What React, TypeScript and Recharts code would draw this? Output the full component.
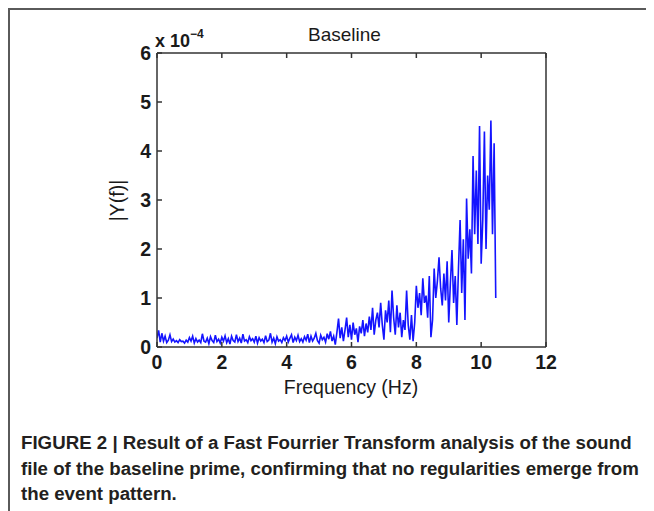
import { LineChart, Line, XAxis, YAxis } from "recharts"

// spectrum magnitude in units of 1e-4, sampled every 0.05 Hz starting at 0 Hz
const lowBand = [
  0.18, 0.34, 0.10, 0.28, 0.12, 0.22, 0.09, 0.14, 0.25, 0.11,
  0.16, 0.10, 0.13, 0.09, 0.15, 0.11, 0.12, 0.08, 0.14, 0.10,
  0.19, 0.12, 0.22, 0.08, 0.17, 0.10, 0.14, 0.09, 0.27, 0.12,
  0.10, 0.18, 0.07, 0.21, 0.13, 0.09, 0.24, 0.11, 0.16, 0.08,
  0.20, 0.12, 0.23, 0.09, 0.17, 0.06, 0.22, 0.13, 0.10, 0.25,
  0.11, 0.18, 0.08, 0.26, 0.12, 0.15, 0.09, 0.21, 0.13, 0.17,
  0.10, 0.22, 0.08, 0.19, 0.12, 0.16, 0.09, 0.23, 0.11, 0.14,
  0.28, 0.10, 0.18, 0.07, 0.21, 0.12, 0.15, 0.09, 0.19, 0.13,
  0.22, 0.10, 0.18, 0.25, 0.09, 0.20, 0.13, 0.24, 0.11, 0.17,
  0.10, 0.21, 0.14, 0.26, 0.09, 0.22, 0.12, 0.18, 0.28, 0.13,
  0.08, 0.24, 0.15, 0.20, 0.10, 0.27, 0.16, 0.32, 0.12, 0.22,
]
const midBand = [
  0.05, 0.30, 0.58, 0.18, 0.40, 0.12, 0.35, 0.60, 0.20, 0.45,
  0.15, 0.50, 0.25, 0.38, 0.10, 0.42, 0.28, 0.55, 0.22, 0.48,
  0.30, 0.62, 0.35, 0.80, 0.25, 0.55, 0.70, 0.40, 0.90, 0.45,
  0.15, 0.75, 0.50, 0.95, 0.30, 1.15, 0.60, 0.25, 0.85, 0.40,
  0.70, 0.20, 0.55, 0.35, 1.15, 0.45, 0.15, 0.65, 0.12, 0.50,
]
const highBand = [
  1.25, 0.80, 1.10, 0.65, 1.40, 0.90, 1.05, 0.60, 1.45, 0.20,
  0.55, 1.60, 1.00, 1.35, 1.83, 1.20, 0.85, 1.50, 0.95, 1.75,
  0.50, 1.30, 1.98, 0.90, 1.45, 0.45, 1.60, 2.59, 1.10, 2.20,
  0.55, 3.03, 1.80, 2.40, 1.50, 3.90, 2.30, 3.60, 2.10, 4.51,
  1.70, 2.60, 4.40, 2.00, 3.50, 2.80, 4.62, 2.30, 4.16, 1.00,
]
const step = 0.05

const xTicks = [0, 2, 4, 6, 8, 10, 12]
const yTicks = [0, 1, 2, 3, 4, 5, 6]

const caption = [
  "FIGURE 2 | Result of a Fast Fourrier Transform analysis of the sound",
  "file of the baseline prime, confirming that no regularities emerge from",
  "the event pattern.",
]

const data = [...lowBand, ...midBand, ...highBand].map((y, i) => ({
  f: +(i * step).toFixed(2),
  y,
}))

const font = "'Liberation Sans', Arial, Helvetica, sans-serif"
const axisColor = "#333"
const tickStyle = { fontFamily: font, fontSize: 19.5, fontWeight: 700, fill: "#1a1a1a" }
const blank = () => ""

export default function App() {
  return (
    <div style={{ position: "relative", width: 646, height: 503, fontFamily: font, background: "#fff" }}>
      <div style={{ position: "absolute", left: 0, top: 0, width: 646, height: 2, background: "#5a5a5a" }} />
      <div style={{ position: "absolute", left: 0, top: 0, width: 2, height: 503, background: "#5a5a5a" }} />

      <div style={{ position: "absolute", left: 0, top: 0 }}>
        <LineChart
          width={646}
          height={420}
          data={data}
          margin={{ top: 40, right: 98, left: 109, bottom: 51 }}
        >
          <XAxis
            xAxisId="bottom"
            dataKey="f"
            type="number"
            domain={[0, 12]}
            ticks={xTicks}
            height={30}
            stroke={axisColor}
            strokeWidth={1.5}
            tickSize={-5}
            tickMargin={13}
            tick={tickStyle}
            allowDataOverflow
          />
          <XAxis
            xAxisId="top"
            orientation="top"
            dataKey="f"
            type="number"
            domain={[0, 12]}
            ticks={xTicks}
            height={5}
            stroke={axisColor}
            strokeWidth={1.5}
            tickSize={-5}
            tickFormatter={blank}
          />
          <YAxis
            yAxisId="left"
            type="number"
            domain={[0, 6]}
            ticks={yTicks}
            width={40}
            stroke={axisColor}
            strokeWidth={1.5}
            tickSize={-5}
            tickMargin={11}
            tick={tickStyle}
          />
          <YAxis
            yAxisId="right"
            orientation="right"
            type="number"
            domain={[0, 6]}
            ticks={yTicks}
            width={10}
            stroke={axisColor}
            strokeWidth={1.5}
            tickSize={-5}
            tickFormatter={blank}
          />
          <Line
            xAxisId="bottom"
            yAxisId="left"
            type="linear"
            dataKey="y"
            stroke="#1414ff"
            strokeWidth={1.6}
            dot={false}
            isAnimationActive={false}
          />
        </LineChart>
      </div>

      <div style={{ position: "absolute", left: 300, top: 16, width: 72, textAlign: "center", fontSize: 19, color: "#1a1a1a", whiteSpace: "nowrap" }}>
        Baseline
      </div>
      <div style={{ position: "absolute", left: 147, top: 21, fontSize: 18, fontWeight: 700, color: "#1a1a1a", whiteSpace: "nowrap" }}>
        x 10<sup style={{ fontSize: 12, position: "relative", top: -2 }}>−4</sup>
      </div>
      <div style={{ position: "absolute", left: 229, top: 368, width: 228, textAlign: "center", fontSize: 19.5, color: "#1a1a1a", whiteSpace: "nowrap" }}>
        Frequency (Hz)
      </div>
      <div style={{ position: "absolute", left: 109, top: 192, width: 0, height: 0 }}>
        <div style={{ position: "absolute", left: -40, top: -11, width: 80, textAlign: "center", fontSize: 19.5, color: "#1a1a1a", transform: "rotate(-90deg)", whiteSpace: "nowrap" }}>
          |Y(f)|
        </div>
      </div>

      <div style={{ position: "absolute", left: 13, top: 422, fontSize: 18.7, fontWeight: 700, lineHeight: "25.5px", color: "#231f20" }}>
        {caption.map((line) => (
          <div key={line} style={{ whiteSpace: "nowrap" }}>{line}</div>
        ))}
      </div>
    </div>
  )
}
